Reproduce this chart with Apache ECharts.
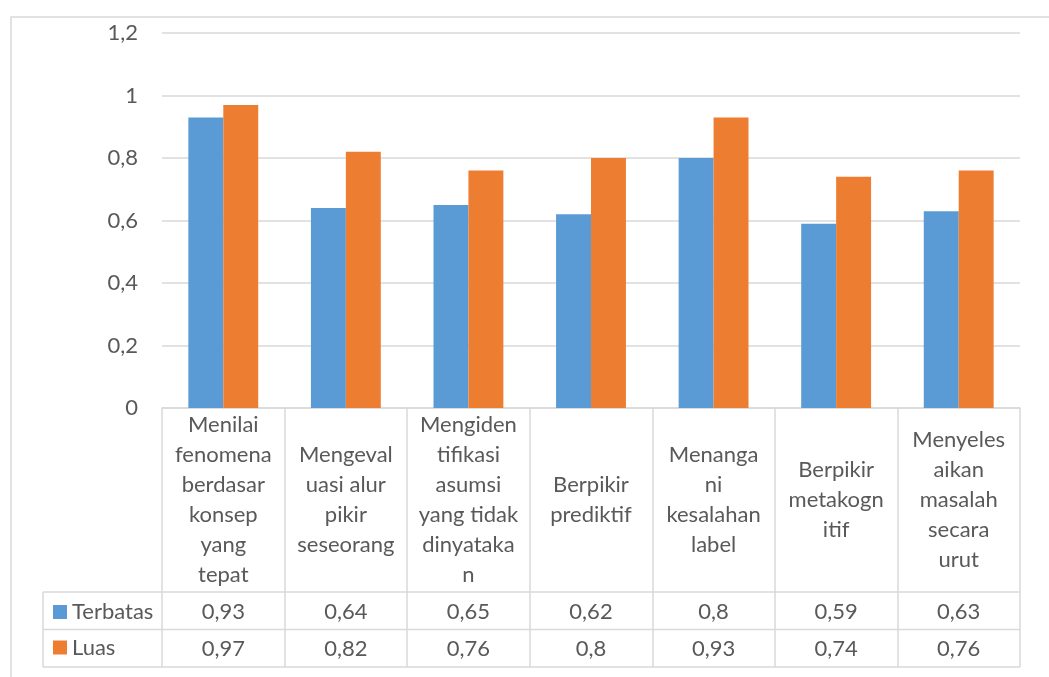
<!DOCTYPE html>
<html>
<head>
<meta charset="utf-8">
<title>Terbatas vs Luas</title>
<script src="https://cdn.jsdelivr.net/npm/echarts@6/dist/echarts.min.js"></script>
<style>
  html, body { margin: 0; padding: 0; background: #ffffff; }
  #chart { width: 1049px; height: 677px; }
</style>
</head>
<body>
<div id="chart"></div>
<script>
// Category names, wrapped the way they appear in the table header cells
const categories = [
  'Menilai\nfenomena\nberdasar\nkonsep\nyang\ntepat',
  'Mengeval\nuasi alur\npikir\nseseorang',
  'Mengiden\ntifikasi\nasumsi\nyang tidak\ndinyataka\nn',
  'Berpikir\nprediktif',
  'Menanga\nni\nkesalahan\nlabel',
  'Berpikir\nmetakogn\nitif',
  'Menyeles\naikan\nmasalah\nsecara\nurut'
];
const seriesNames = ['Terbatas', 'Luas'];
const terbatas = [0.93, 0.64, 0.65, 0.62, 0.8, 0.59, 0.63];
const luas = [0.97, 0.82, 0.76, 0.8, 0.93, 0.74, 0.76];
const yTicks = { min: 0, max: 1.2, interval: 0.2 };

const FONT = 'Lato';
const TEXT = '#595959';
const LINE = '#d9d9d9';
const BLUE = '#5b9bd5';
const ORANGE = '#ed7d31';

// comma as decimal separator
const fmt = v => String(+(+v).toFixed(2)).replace('.', ',');

// plot area and table geometry
const plotLeft = 162, plotRight = 1020, plotTop = 33, plotBottom = 408;
const headerH = 184, rowH = 37.5;
const tableLeft = 43;
const row1Top = plotBottom + headerH;
const row2Top = row1Top + rowH;
const tableBottom = row2Top + rowH;

const chart = echarts.init(document.getElementById('chart'), null, { renderer: 'canvas' });

const valueRowAxis = (values, centerY) => ({
  type: 'category',
  data: categories,
  position: 'bottom',
  axisLine: { show: false },
  axisTick: { show: false },
  splitLine: { show: false },
  axisLabel: {
    interval: 0,
    margin: centerY - plotBottom + 1,
    verticalAlign: 'middle',
    color: TEXT,
    fontFamily: FONT,
    fontSize: 22,
    formatter: (v, i) => fmt(values[i])
  }
});

chart.setOption({
  animation: false,
  backgroundColor: '#ffffff',
  textStyle: { fontFamily: FONT },
  grid: {
    left: plotLeft,
    right: 1049 - plotRight,
    top: plotTop,
    bottom: 677 - plotBottom,
    containLabel: false
  },
  legend: {
    data: seriesNames,
    orient: 'vertical',
    left: 48,
    top: row1Top + 4,
    itemWidth: 14,
    itemHeight: 14,
    itemGap: 13.5,
    icon: 'rect',
    selectedMode: false,
    textStyle: { color: TEXT, fontFamily: FONT, fontSize: 22, lineHeight: 22 }
  },
  xAxis: [
    {
      type: 'category',
      data: categories,
      boundaryGap: true,
      axisLine: { show: true, lineStyle: { color: LINE, width: 1.5 } },
      axisTick: { show: true, length: tableBottom - plotBottom, lineStyle: { color: LINE, width: 1.5 } },
      axisLabel: {
        interval: 0,
        margin: headerH / 2,
        verticalAlign: 'middle',
        align: 'center',
        color: TEXT,
        fontFamily: FONT,
        fontSize: 22,
        lineHeight: 30
      },
      splitLine: { show: false }
    },
    valueRowAxis(terbatas, row1Top + rowH / 2),
    valueRowAxis(luas, row2Top + rowH / 2)
  ],
  yAxis: {
    type: 'value',
    min: yTicks.min,
    max: yTicks.max,
    interval: yTicks.interval,
    axisLine: { show: false },
    axisTick: { show: false },
    axisLabel: {
      margin: 24,
      color: TEXT,
      fontFamily: FONT,
      fontSize: 22,
      formatter: v => fmt(v)
    },
    splitLine: { lineStyle: { color: LINE, width: 1.5 } }
  },
  series: [
    {
      name: seriesNames[0],
      type: 'bar',
      data: terbatas,
      itemStyle: { color: BLUE },
      barGap: '0%',
      barCategoryGap: '43%'
    },
    {
      name: seriesNames[1],
      type: 'bar',
      data: luas,
      itemStyle: { color: ORANGE },
      barGap: '0%',
      barCategoryGap: '43%'
    }
  ],
  graphic: [
    // chart frame
    { type: 'rect', shape: { x: 11, y: 17, width: 1200, height: 800 }, style: { fill: 'none', stroke: LINE, lineWidth: 1.5 }, silent: true, z: -1 },
    // data table rules
    { type: 'line', shape: { x1: tableLeft, y1: row1Top, x2: plotRight, y2: row1Top }, style: { stroke: LINE, lineWidth: 1.5 }, silent: true },
    { type: 'line', shape: { x1: tableLeft, y1: row2Top, x2: plotRight, y2: row2Top }, style: { stroke: LINE, lineWidth: 1.5 }, silent: true },
    { type: 'line', shape: { x1: tableLeft, y1: tableBottom, x2: plotRight, y2: tableBottom }, style: { stroke: LINE, lineWidth: 1.5 }, silent: true },
    { type: 'line', shape: { x1: tableLeft, y1: row1Top, x2: tableLeft, y2: tableBottom }, style: { stroke: LINE, lineWidth: 1.5 }, silent: true }
  ]
});
</script>
</body>
</html>
